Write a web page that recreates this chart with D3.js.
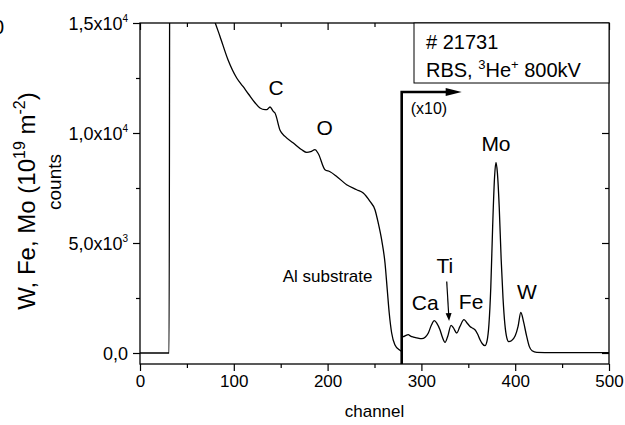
<!DOCTYPE html>
<html>
<head>
<meta charset="utf-8">
<script src="https://cdn.jsdelivr.net/npm/d3@7"></script>
<style>
  html, body { margin: 0; padding: 0; background: #fff; }
  svg { display: block; font-family: "Liberation Sans", Arial, sans-serif; }
</style>
</head>
<body>
<svg id="chart" width="625" height="425"></svg>
<script>
// ---------- data ----------
const chMain = [0, 31, 32, 45, 60, 80, 85.3, 93.8, 103.1, 109.8, 116, 122.6, 127.9, 133.3, 135.1, 138.6, 142.1, 143.9, 149.3, 154.6, 163.5, 172.4, 177.8, 182, 186.6, 190.1, 197.2, 202.6, 209.7, 220.3, 231, 238, 245.2, 250.5, 254, 257.6, 261.2, 263.6, 265.7, 268.3, 271.7, 276.4, 279];
const countsMain = [0, 0, 26000, 21000, 17800, 15030, 14390, 13330, 12500, 12117, 11750, 11376, 11135, 11058, 11058, 11181, 10981, 10908, 10126, 9845, 9545, 9240, 9117, 9150, 9240, 9058, 8331, 8240, 8026, 7649, 7422, 7272, 6890, 6513, 5909, 5150, 4090, 2877, 1818, 909, 377, 150, 73];

// magnified (x10) part of the spectrum, values as displayed
const chX10 = [279, 280.7, 283, 286, 288.5, 291.4, 295, 300.3, 304, 307.4, 310.5, 313.8, 316.5, 319.8, 322.5, 325.2, 328, 331.6, 334, 337.7, 341, 345.4, 348, 351.8, 355, 357.1, 360, 362.5, 365, 367.8, 370, 372, 374, 376, 378, 379.5, 381, 383, 385, 387, 389, 391, 393, 396, 400, 403, 406, 409, 412, 415, 418, 423, 440, 460, 480, 500];
const countsX10 = [727, 741, 790, 832, 770, 727, 690, 650, 720, 909, 1250, 1468, 1350, 1059, 700, 482, 750, 1254, 1150, 909, 1200, 1513, 1400, 1209, 1120, 1059, 850, 604, 420, 332, 550, 1300, 3000, 5800, 8000, 8660, 8200, 6600, 4300, 2500, 1300, 700, 520, 560, 780, 1200, 1840, 1400, 800, 300, 100, 30, 20, 20, 20, 20];

const xTicks = [0, 100, 200, 300, 400, 500];
const xMinorTicks = [50, 150, 250, 350, 450];
const yTicks = [0, 5000, 10000, 15000];
const yMinorTicks = [2500, 7500, 12500];
const yTickMantissa = ["0,0", "5,0x10", "1,0x10", "1,5x10"];
const yTickExponent = ["", "3", "4", "4"];

const magnifyStart = 279;  // channel where the x10 part begins
const magnifyLabel = "(x10)";

const peakLabels = [
  { text: "C",  ch: 145,   v: 11750 },
  { text: "O",  ch: 197,   v: 9900 },
  { text: "Mo", ch: 379.5, v: 9200 },
  { text: "Ti", ch: 325,   v: 3650 },
  { text: "Ca", ch: 304,   v: 1950 },
  { text: "Fe", ch: 353,   v: 2000 },
  { text: "W",  ch: 412.5, v: 2450 }
];
const tiArrow = { ch0: 327, v0: 3250, ch1: 329.5, v1: 1450 };
const substrateLabel = { text: "Al substrate", ch: 200, v: 3250 };

// ---------- layout ----------
const svg = d3.select("#chart");
const L = 140, R = 609, T = 23, B = 364;
const x = d3.scaleLinear().domain([0, 500]).range([L, R]);
const y = d3.scaleLinear().domain([-500, 15000]).range([B, T]);

svg.append("defs").append("clipPath").attr("id", "clip")
  .append("rect").attr("x", L).attr("y", T).attr("width", R - L).attr("height", B - T);

const line = d3.line().x(d => x(d[0])).y(d => y(d[1])).curve(d3.curveMonotoneX);

const g = svg.append("g").attr("clip-path", "url(#clip)");
g.append("path").datum(chMain.map((c, i) => [c, countsMain[i]]))
  .attr("d", line).attr("fill", "none").attr("stroke", "#000").attr("stroke-width", 1.3);
g.append("path").datum(chX10.map((c, i) => [c, countsX10[i]]))
  .attr("d", line).attr("fill", "none").attr("stroke", "#000").attr("stroke-width", 1.3);

// ---------- axes ----------
function styleAxis(sel) {
  sel.select(".domain").remove();
  sel.selectAll("line").attr("stroke", "#000").attr("stroke-width", 1.2);
  sel.selectAll("text").attr("fill", "#000").style("font-family", "Liberation Sans, Arial, sans-serif");
}

// bottom
const gx = svg.append("g").attr("transform", `translate(0,${B})`)
  .call(d3.axisBottom(x).tickValues(xTicks).tickSize(7).tickPadding(4).tickFormat(d3.format("d")));
styleAxis(gx); gx.selectAll("text").attr("font-size", 17);
const gxm = svg.append("g").attr("transform", `translate(0,${B})`)
  .call(d3.axisBottom(x).tickValues(xMinorTicks).tickSize(4).tickFormat(""));
styleAxis(gxm);
// top (inward)
const gt = svg.append("g").attr("transform", `translate(0,${T})`)
  .call(d3.axisBottom(x).tickValues(xTicks).tickSize(7).tickFormat(""));
styleAxis(gt);
const gtm = svg.append("g").attr("transform", `translate(0,${T})`)
  .call(d3.axisBottom(x).tickValues(xMinorTicks).tickSize(4).tickFormat(""));
styleAxis(gtm);

// left
const gy = svg.append("g").attr("transform", `translate(${L},0)`)
  .call(d3.axisLeft(y).tickValues(yTicks).tickSize(7).tickPadding(4).tickFormat(""));
styleAxis(gy);
gy.selectAll(".tick").each(function(d, i) {
  const t = d3.select(this).append("text")
    .attr("x", -12).attr("dy", "0.36em").attr("text-anchor", "end")
    .attr("font-size", 18).attr("fill", "#000");
  t.append("tspan").text(yTickMantissa[i]);
  if (yTickExponent[i]) {
    t.append("tspan").attr("font-size", 10).attr("dy", "-0.8em").text(yTickExponent[i]);
  }
});
const gym = svg.append("g").attr("transform", `translate(${L},0)`)
  .call(d3.axisLeft(y).tickValues(yMinorTicks).tickSize(4).tickFormat(""));
styleAxis(gym);
// right (inward)
const gr = svg.append("g").attr("transform", `translate(${R},0)`)
  .call(d3.axisLeft(y).tickValues(yTicks).tickSize(7).tickFormat(""));
styleAxis(gr);
const grm = svg.append("g").attr("transform", `translate(${R},0)`)
  .call(d3.axisLeft(y).tickValues(yMinorTicks).tickSize(4).tickFormat(""));
styleAxis(grm);

// frame
svg.append("rect").attr("x", L).attr("y", T).attr("width", R - L).attr("height", B - T)
  .attr("fill", "none").attr("stroke", "#000").attr("stroke-width", 1.3);

// ---------- legend box ----------
svg.append("rect").attr("x", 414).attr("y", T).attr("width", R - 414).attr("height", 60)
  .attr("fill", "#fff").attr("stroke", "#000").attr("stroke-width", 1);
svg.append("text").attr("x", 426).attr("y", 49).attr("font-size", 20).text("# 21731");
const lt = svg.append("text").attr("x", 426).attr("y", 77).attr("font-size", 20);
lt.append("tspan").text("RBS, ");
lt.append("tspan").attr("font-size", 13).attr("dy", -8).text("3");
lt.append("tspan").attr("dy", 8).text("He");
lt.append("tspan").attr("font-size", 13).attr("dy", -8).text("+");
lt.append("tspan").attr("dy", 8).text(" 800kV");

// ---------- magnification marker ----------
const mx = x(magnifyStart);
const ay = 92;
svg.append("path")
  .attr("d", `M${mx},${B} L${mx},${ay} L${mx + 46},${ay}`)
  .attr("fill", "none").attr("stroke", "#000").attr("stroke-width", 2.6);
svg.append("path")
  .attr("d", `M${mx + 44},${ay - 4} L${mx + 60},${ay} L${mx + 44},${ay + 4} Z`)
  .attr("fill", "#000");
svg.append("text").attr("x", mx + 9).attr("y", 114).attr("font-size", 16).text(magnifyLabel);

// ---------- annotations ----------
svg.selectAll("text.peak").data(peakLabels).enter().append("text")
  .attr("class", "peak")
  .attr("x", d => x(d.ch)).attr("y", d => y(d.v))
  .attr("text-anchor", "middle").attr("font-size", 21).text(d => d.text);

svg.append("text").attr("x", x(substrateLabel.ch)).attr("y", y(substrateLabel.v))
  .attr("text-anchor", "middle").attr("font-size", 17).text(substrateLabel.text);

const ax0 = x(tiArrow.ch0), ay0 = y(tiArrow.v0), ax1 = x(tiArrow.ch1), ay1 = y(tiArrow.v1);
const ang = Math.atan2(ay1 - ay0, ax1 - ax0);
svg.append("line").attr("x1", ax0).attr("y1", ay0)
  .attr("x2", ax1 - 6 * Math.cos(ang)).attr("y2", ay1 - 6 * Math.sin(ang))
  .attr("stroke", "#000").attr("stroke-width", 1.2);
const hx = ax1, hy = ay1, hl = 8, hw = 3;
svg.append("path").attr("d",
  `M${hx},${hy} L${hx - hl * Math.cos(ang) + hw * Math.sin(ang)},${hy - hl * Math.sin(ang) - hw * Math.cos(ang)} ` +
  `L${hx - hl * Math.cos(ang) - hw * Math.sin(ang)},${hy - hl * Math.sin(ang) + hw * Math.cos(ang)} Z`)
  .attr("fill", "#000");

// ---------- axis titles ----------
svg.append("text").attr("x", (L + R) / 2).attr("y", 417).attr("text-anchor", "middle")
  .attr("font-size", 17).text("channel");

const yl = svg.append("text").attr("transform", "translate(35,201) rotate(-90)")
  .attr("text-anchor", "middle").attr("font-size", 24);
yl.append("tspan").text("W, Fe, Mo  (10");
yl.append("tspan").attr("font-size", 16).attr("dy", -10).text("19");
yl.append("tspan").attr("dy", 10).text(" m");
yl.append("tspan").attr("font-size", 16).attr("dy", -10).text("-2");
yl.append("tspan").attr("dy", 10).text(")");

svg.append("text").attr("transform", "translate(61,182) rotate(-90)")
  .attr("text-anchor", "middle").attr("font-size", 19).text("counts");

// clipped glyph at the top-left edge
svg.append("text").attr("x", -7).attr("y", 34).attr("font-size", 20).text("0");
</script>
</body>
</html>
